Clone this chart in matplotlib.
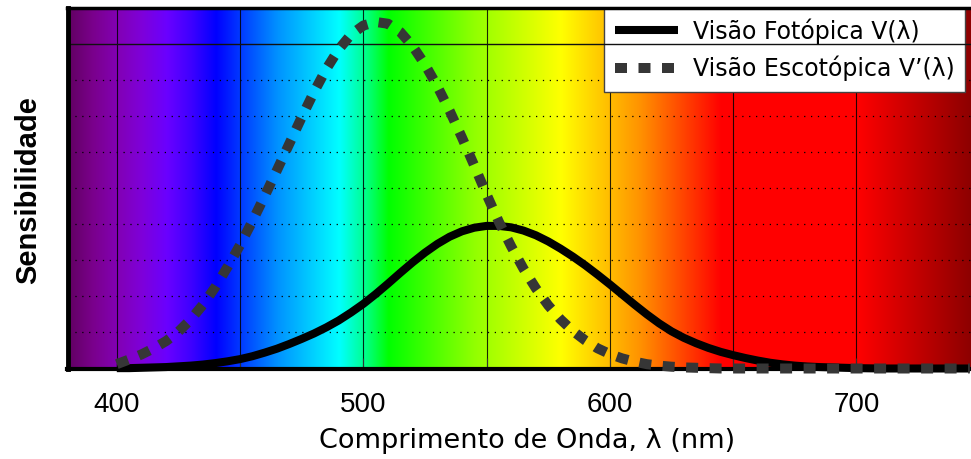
import numpy as np
import matplotlib
matplotlib.use("Agg")
import matplotlib.pyplot as plt
from matplotlib.colors import LinearSegmentedColormap

plt.rcParams['font.family'] = ['Liberation Sans', 'DejaVu Sans']

# ---------------- data (arbitrary units 0..10) -------------
wl_photopic = [400, 405, 410, 415, 420, 425, 430, 435, 440, 445, 450, 455, 460, 465,
               470, 475, 480, 485, 490, 495, 500, 505, 510, 515, 520, 525, 530, 535,
               540, 545, 550, 555, 560, 565, 570, 575, 580, 585, 590, 595, 600, 605,
               610, 615, 620, 625, 630, 635, 640, 645, 650, 655, 660, 665, 670, 675,
               680, 685, 690, 695, 700, 710, 746]
photopic = [0.01, 0.01, 0.02, 0.03, 0.04, 0.06, 0.08, 0.11, 0.15, 0.20, 0.26, 0.34,
            0.44, 0.55, 0.68, 0.82, 0.97, 1.14, 1.33, 1.55, 1.79, 2.06, 2.35, 2.65,
            2.94, 3.21, 3.45, 3.65, 3.80, 3.90, 3.95, 3.95, 3.91, 3.82, 3.69, 3.52,
            3.32, 3.10, 2.86, 2.60, 2.33, 2.05, 1.77, 1.50, 1.25, 1.03, 0.85, 0.70,
            0.57, 0.46, 0.37, 0.29, 0.22, 0.16, 0.115, 0.08, 0.055, 0.04, 0.03, 0.02,
            0.01, 0.0, 0.0]

wl_scotopic = [400, 405, 410, 415, 420, 425, 430, 435, 440, 445, 450, 455, 460, 465,
               470, 475, 480, 485, 490, 495, 500, 505, 510, 515, 520, 525, 530, 535,
               540, 545, 550, 555, 560, 565, 570, 575, 580, 585, 590, 595, 600, 605,
               610, 615, 620, 625, 630, 635, 640, 645, 746]
scotopic = [0.12, 0.25, 0.39, 0.56, 0.76, 1.02, 1.36, 1.77, 2.26, 2.82, 3.42, 4.08,
            4.78, 5.50, 6.23, 6.96, 7.66, 8.30, 8.84, 9.25, 9.50, 9.60, 9.55, 9.32,
            8.93, 8.42, 7.82, 7.14, 6.40, 5.62, 4.82, 4.06, 3.38, 2.76, 2.22, 1.75,
            1.36, 1.04, 0.78, 0.56, 0.40, 0.28, 0.19, 0.12, 0.08, 0.05, 0.03, 0.02,
            0.01, 0.0, 0.0]

label_photopic = "Visão Fotópica V(λ)"
label_scotopic = "Visão Escotópica V’(λ)"
x_label = "Comprimento de Onda, λ (nm)"
y_label = "Sensibilidade"
x_major = [400, 500, 600, 700]
x_minor = [450, 550, 650]
dotted_levels = [1, 2, 3, 4, 5, 6, 7, 8]
solid_levels = [9]

# spectrum background colour stops (nm, RGB 0-255)
spectrum_nm = [380, 390, 400, 410, 420, 430, 440, 465, 490, 500, 510, 545, 580,
               612, 645, 700, 746.5]
spectrum_rgb = [(97, 0, 97), (122, 0, 140), (130, 0, 180), (126, 0, 218),
                (106, 0, 255), (61, 0, 255), (0, 0, 255), (0, 146, 255),
                (0, 255, 255), (0, 255, 146), (0, 255, 0), (146, 255, 0),
                (255, 255, 0), (255, 146, 0), (255, 0, 0), (255, 0, 0), (140, 0, 0)]

XMIN, XMAX = 380, 746.5
YMIN, YMAX = 0, 10

# ---------------- figure ----------------
W, H = 971, 459
fig = plt.figure(figsize=(W / 100, H / 100), dpi=100)
L, R, T, B = 67.5, 971, 7.5, 368.5
ax = fig.add_axes([L / W, 1 - B / H, (R - L) / W, (B - T) / H])

stops = [((nm - XMIN) / (XMAX - XMIN), tuple(c / 255 for c in rgb))
         for nm, rgb in zip(spectrum_nm, spectrum_rgb)]
cmap = LinearSegmentedColormap.from_list("spectrum", stops, N=1024)
grad = np.linspace(0, 1, 1024)[None, :]
ax.imshow(grad, extent=[XMIN, XMAX, YMIN, YMAX], aspect='auto', cmap=cmap,
          interpolation='bilinear', zorder=0)

ax.set_xlim(XMIN, XMAX)
ax.set_ylim(YMIN, YMAX)

# grid
for v in x_major + x_minor:
    ax.axvline(v, color='black', lw=0.8, alpha=0.85, zorder=1)
for lv in dotted_levels:
    ax.axhline(lv, color='black', lw=0.9, linestyle=(0, (1, 4.5)), zorder=1)
for lv in solid_levels:
    ax.axhline(lv, color='#111111', lw=1.0, zorder=3.5)

# curves
ax.plot(wl_photopic, photopic, color='black', lw=5.8, solid_capstyle='butt',
        solid_joinstyle='round', zorder=4, label=label_photopic, clip_on=False)
ax.plot(wl_scotopic, scotopic, color='#363636', lw=7.2,
        linestyle=(0, (1.2, 1.15)), dash_capstyle='butt', zorder=6,
        label=label_scotopic, clip_on=False)

# axes styling
ax.set_xticks(x_major)
ax.set_xticks(x_minor, minor=True)
ax.set_yticks([])
ax.tick_params(axis='x', which='both', direction='in', length=8, width=0.8,
               color='#333333', labelsize=20, pad=17)
for lab in ax.get_xticklabels():
    lab.set_color('black')
ax.spines['right'].set_visible(False)
ax.spines['left'].set_linewidth(3.5)
ax.spines['bottom'].set_linewidth(3.0)
ax.spines['top'].set_linewidth(2.5)
for s in ['left', 'bottom', 'top']:
    ax.spines[s].set_zorder(5)

ax.set_xlabel(x_label, fontsize=19.5, family=['DejaVu Sans'])
ax.xaxis.set_label_coords((527 - L) / (R - L), (B - 428) / (B - T))
ax.xaxis.label.set_verticalalignment('top')

fig.text(28 / W, 1 - 190 / H, y_label, rotation=90, fontsize=21,
         fontweight='bold', ha='center', va='center')

leg = ax.legend(loc='upper left', bbox_to_anchor=((604 - L) / (R - L), 1.0),
                borderaxespad=0, prop={'family': ['DejaVu Sans'], 'size': 17},
                frameon=True, fancybox=False,
                handlelength=2.7, handletextpad=0.6, labelspacing=0.5,
                borderpad=0.45)
leg.set_zorder(3)
fr = leg.get_frame()
fr.set_facecolor('white')
fr.set_alpha(1)
fr.set_edgecolor('#444444')
fr.set_linewidth(1.0)

fig.savefig("out.png", dpi=100)
